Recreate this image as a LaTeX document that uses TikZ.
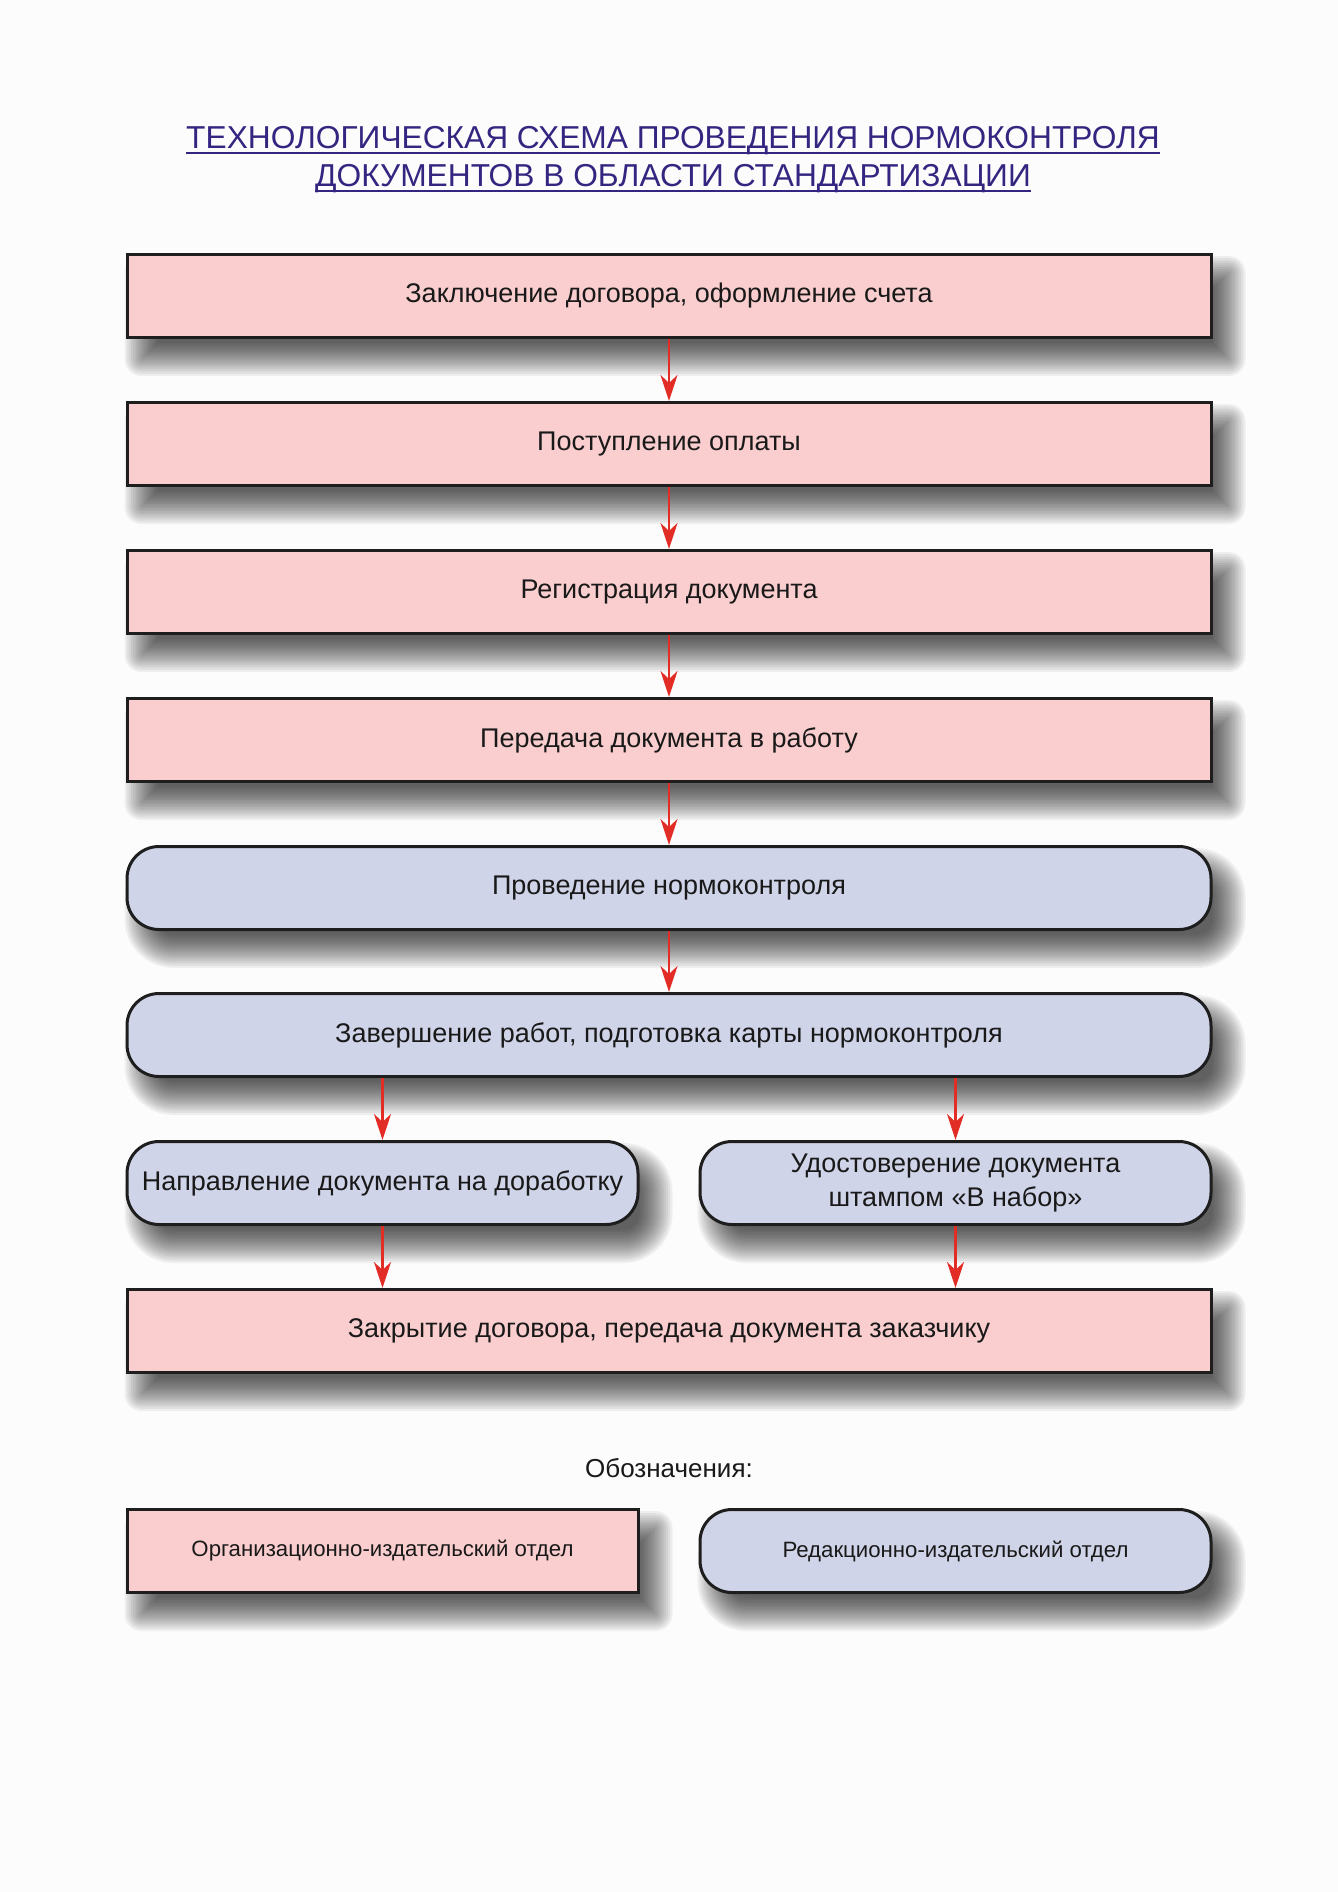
\documentclass[tikz,border=0pt]{standalone}
\usepackage{fontspec}
\setmainfont{Liberation Sans}
\usetikzlibrary{arrows.meta,calc}
\definecolor{pinkfill}{RGB}{250,206,206}
\definecolor{bluefill}{RGB}{208,212,232}
\definecolor{titleblue}{RGB}{52,38,128}
\definecolor{arrred}{RGB}{226,45,38}
\definecolor{bgcol}{RGB}{253,252,253}
\definecolor{edgecol}{RGB}{30,30,30}
\pgfdeclarelayer{bglayer}
\pgfdeclarelayer{shadelayer}
\pgfsetlayers{bglayer,shadelayer,main}
% #1 node name, #2 base corner radius (pt)
\newcommand\boxshade[2]{%
  \foreach \k in {0,...,15}{%
    \pgfmathsetmacro\ee{8.5-\k*1.1}%
    \pgfmathsetmacro\rr{max(0.1,#2+\ee)}%
    \fill[black,opacity=0.055,rounded corners=\rr pt]
      ($(#1.south west)+(8pt-\ee pt,-10pt-\ee pt)$) rectangle
      ($(#1.north east)+(8pt+\ee pt,-10pt+\ee pt)$);
  }%
}
\begin{document}
\begin{tikzpicture}[x=0.5pt,y=-0.5pt,
  orgbox/.style={draw=edgecol,line width=1.5pt,fill=pinkfill,minimum height=41.5pt,inner sep=2pt,align=center,font=\fontsize{13.5}{17}\selectfont,text=black!90},
  redbox/.style={orgbox,fill=bluefill,rounded corners=16pt},
  wide/.style={minimum width=542pt},
  half/.style={minimum width=255.5pt},
  arr/.style={draw=arrred,line width=1.3pt,-{Stealth[length=13pt,width=8.5pt,inset=4pt]}},
  ttl/.style={text=titleblue,font=\fontsize{15.85}{19}\selectfont,inner sep=0pt}
]
\begin{pgfonlayer}{bglayer}
\useasboundingbox[fill=bgcol] (0,0) rectangle (1338,1892);
\end{pgfonlayer}

% title
\node[ttl,anchor=base] (t1) at (673,148) {ТЕХНОЛОГИЧЕСКАЯ СХЕМА ПРОВЕДЕНИЯ НОРМОКОНТРОЛЯ};
\node[ttl,anchor=base] (t2) at (673,186) {ДОКУМЕНТОВ В ОБЛАСТИ СТАНДАРТИЗАЦИИ};
\draw[titleblue,line width=1.2pt] ([yshift=-2.5pt]t1.base west) -- ([yshift=-2.5pt]t1.base east);
\draw[titleblue,line width=1.2pt] ([yshift=-2.5pt]t2.base west) -- ([yshift=-2.5pt]t2.base east);

% main flow
\node[orgbox,wide] (b1) at (669,296) {Заключение договора, оформление счета};
\node[orgbox,wide] (b2) at (669,444) {Поступление оплаты};
\node[orgbox,wide] (b3) at (669,592) {Регистрация документа};
\node[orgbox,wide] (b4) at (669,740) {Передача документа в работу};
\node[redbox,wide] (b5) at (669,888) {Проведение нормоконтроля};
\node[redbox,wide] (b6) at (669,1035) {Завершение работ, подготовка карты нормоконтроля};
\node[redbox,half] (b7a) at (382.5,1183) {Направление документа на доработку};
\node[redbox,half] (b7b) at (955.5,1183) {Удостоверение документа\\штампом «В набор»};
\node[orgbox,wide] (b8) at (669,1331) {Закрытие договора, передача документа заказчику};

\draw[arr] (b1.south) -- (b2.north);
\draw[arr] (b2.south) -- (b3.north);
\draw[arr] (b3.south) -- (b4.north);
\draw[arr] (b4.south) -- (b5.north);
\draw[arr] (b5.south) -- (b6.north);
\draw[arr] (b7a.north |- b6.south) -- (b7a.north);
\draw[arr] (b7b.north |- b6.south) -- (b7b.north);
\draw[arr] (b7a.south) -- (b7a.south |- b8.north);
\draw[arr] (b7b.south) -- (b7b.south |- b8.north);

% legend
\node[font=\fontsize{13}{16}\selectfont,text=black!90] (leg) at (669,1468) {Обозначения:};
\node[orgbox,half,font=\fontsize{11.1}{14}\selectfont] (l1) at (382.5,1551) {Организационно-издательский отдел};
\node[redbox,half,font=\fontsize{11.1}{14}\selectfont] (l2) at (955.5,1551) {Редакционно-издательский отдел};

% shadows
\begin{pgfonlayer}{shadelayer}
\boxshade{b1}{0}\boxshade{b2}{0}\boxshade{b3}{0}\boxshade{b4}{0}
\boxshade{b5}{16}\boxshade{b6}{16}\boxshade{b7a}{16}\boxshade{b7b}{16}
\boxshade{b8}{0}\boxshade{l1}{0}\boxshade{l2}{16}
\end{pgfonlayer}
\end{tikzpicture}
\end{document}
